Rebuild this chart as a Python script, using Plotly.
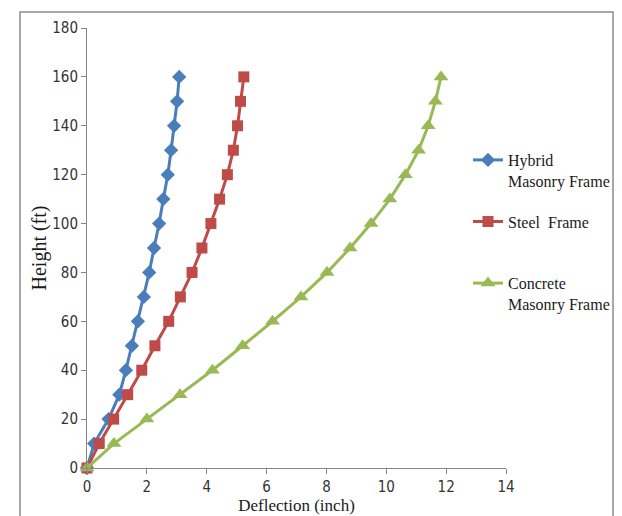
import plotly.graph_objects as go

height_ft = [0, 10, 20, 30, 40, 50, 60, 70, 80, 90, 100, 110, 120, 130, 140, 150, 160]
hybrid_defl = [0, 0.24, 0.72, 1.08, 1.30, 1.50, 1.70, 1.90, 2.08, 2.24, 2.41, 2.55, 2.70, 2.81, 2.91, 3.01, 3.08]
steel_defl = [0, 0.41, 0.89, 1.36, 1.83, 2.27, 2.73, 3.12, 3.51, 3.84, 4.14, 4.43, 4.69, 4.89, 5.03, 5.13, 5.24]
concrete_defl = [0, 0.90, 2.00, 3.11, 4.19, 5.20, 6.20, 7.15, 8.02, 8.79, 9.49, 10.12, 10.64, 11.08, 11.40, 11.64, 11.83]

x_ticks = [0, 2, 4, 6, 8, 10, 12, 14]
y_ticks = [0, 20, 40, 60, 80, 100, 120, 140, 160, 180]

# page body margin offset (8px default)
OFF = 8
W, H = 622 - OFF, 516 - OFF
ML, MT = 87 - OFF, 28 - OFF
PW, PH = 419, 440
MR, MB = W - ML - PW, H - MT - PH

serif = "Liberation Serif, Times New Roman, serif"
narrow = "Liberation Sans Narrow, Arial Narrow, DejaVu Sans Condensed, sans-serif"

fig = go.Figure()
fig.add_trace(go.Scatter(x=hybrid_defl, y=height_ft, mode="lines+markers",
                         name="Hybrid<br>Masonry Frame",
                         line=dict(color="#4A7EBB", width=3),
                         marker=dict(symbol="diamond", size=11, color="#4A7EBB"),
                         cliponaxis=False, legendgroup="a"))
fig.add_trace(go.Scatter(x=steel_defl, y=height_ft, mode="lines+markers",
                         name="Steel&nbsp; Frame<br>&nbsp;",
                         line=dict(color="#BE4B48", width=3),
                         marker=dict(symbol="square", size=11, color="#BE4B48"),
                         cliponaxis=False, legendgroup="b"))
fig.add_trace(go.Scatter(x=concrete_defl, y=height_ft, mode="lines+markers",
                         name="Concrete<br>Masonry Frame",
                         line=dict(color="#98B954", width=3),
                         marker=dict(symbol="triangle-up", size=13, color="#98B954"),
                         cliponaxis=False, legendgroup="c"))

def px_x(p):
    return (p - OFF - ML) / PW

def px_y(p):
    return (MT + PH - (p - OFF)) / PH

fig.add_shape(type="rect", xref="paper", yref="paper",
              x0=px_x(20), x1=px_x(613), y0=px_y(530), y1=px_y(12),
              line=dict(color="#8C8C8C", width=1.5), fillcolor="rgba(0,0,0,0)")

fig.update_layout(
    width=W, height=H,
    margin=dict(l=ML, r=MR, t=MT, b=MB, autoexpand=False),
    paper_bgcolor="white", plot_bgcolor="white",
    showlegend=True,
    legend=dict(x=px_x(468), y=px_y(143), xanchor="left", yanchor="top",
                font=dict(family=serif, size=16, color="#1a1a1a"),
                valign="top", tracegroupgap=17, itemwidth=30,
                bgcolor="rgba(0,0,0,0)"),
    xaxis=dict(range=[0, 14], tickvals=x_ticks, ticktext=[str(v) for v in x_ticks],
               showgrid=False, zeroline=False, showline=True, linecolor="#868686",
               linewidth=1, ticks="outside", ticklen=5, tickcolor="#868686",
               automargin=False,
               tickfont=dict(family=narrow, size=15, color="#333333"),
               title=dict(text="Deflection (inch)", font=dict(family=serif, size=17, color="#1a1a1a"),
                          standoff=1)),
    yaxis=dict(range=[0, 180], tickvals=y_ticks, ticktext=[str(v) for v in y_ticks],
               showgrid=False, zeroline=False, showline=True, linecolor="#868686",
               linewidth=1, ticks="outside", ticklen=5, tickcolor="#868686",
               automargin=False,
               tickfont=dict(family=narrow, size=15, color="#333333"),
               title=dict(text="Height (ft)", font=dict(family=serif, size=20, color="#1a1a1a"),
                          standoff=0)),
)

fig.write_html("out.html")
